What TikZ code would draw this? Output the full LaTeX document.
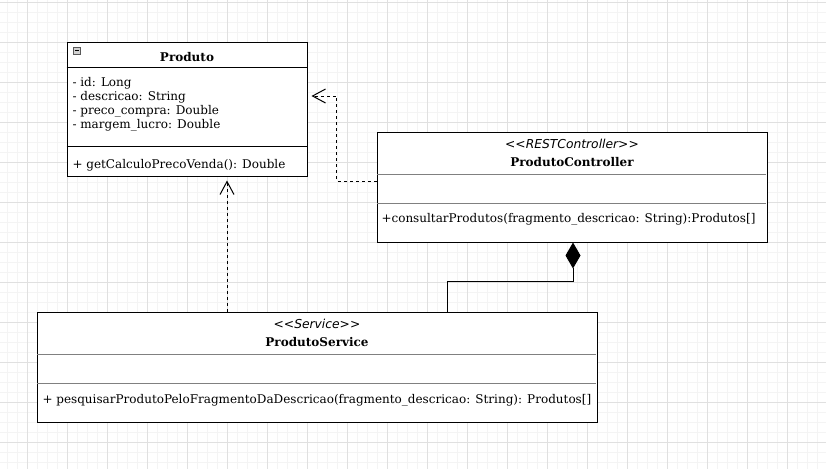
\documentclass[tikz,border=0pt]{standalone}
\usepackage{fontspec}
\setmainfont{DejaVu Serif}
\setsansfont{DejaVu Sans}
\usetikzlibrary{arrows.meta,calc,positioning}

\definecolor{gridminor}{HTML}{F4F4F4}
\definecolor{gridmajor}{HTML}{E0E0E0}

\begin{document}
\begin{tikzpicture}[x=1pt,y=-1pt,line width=1pt,
		classbox/.style={draw,rectangle,inner sep=0pt},
		classtitle/.style={font=\fontsize{12}{14}\selectfont\bfseries,anchor=base,inner sep=0pt},
		stereo/.style={font=\fontsize{12.3}{14}\sffamily\itshape,anchor=base,inner sep=0pt},
		member/.style={font=\fontsize{12}{14}\selectfont,anchor=base west,inner sep=0pt},
		dep/.style={dash pattern=on 3pt off 3pt,-{Straight Barb[length=13pt,width=14pt]},shorten >=4pt},
		comp/.style={-{Diamond[length=26pt,width=15pt]}}]
		\useasboundingbox (0,0) rectangle (826,469);
		% grid
		\foreach \x in {7,17,...,827} \draw[gridminor,line width=0.8pt] (\x,0) -- (\x,469);
		\foreach \y in {2,12,...,469} \draw[gridminor,line width=0.8pt] (0,\y) -- (826,\y);
		\foreach \x in {27,67,...,827} \draw[gridmajor,line width=0.8pt] (\x,0) -- (\x,469);
		\foreach \y in {2,42,...,469} \draw[gridmajor,line width=0.8pt] (0,\y) -- (826,\y);

		% nodes
		\node[classbox,fill=white,minimum width=240pt,minimum height=134pt] (produto) at (187,109) {};
		\node[classbox,fill=white,minimum width=390pt,minimum height=110pt] (controller) at (572,187) {};
		\node[classbox,fill=white,minimum width=560pt,minimum height=110pt] (service) at (317,367) {};

		% compartments
		\draw (produto.north west) ++(0,26) -- ++(240,0);
		\draw (produto.north west) ++(0,105) -- ++(240,0);
		\draw[black!50] (controller.north west) ++(0.5,43) -- ++(389,0);
		\draw[black!50] (controller.north west) ++(0.5,72) -- ++(389,0);
		\draw[black!50] (service.north west) ++(0.5,43) -- ++(559,0);
		\draw[black!50] (service.north west) ++(0.5,72) -- ++(559,0);

		% collapse icon
		\draw[fill=gray!35,draw=gray!70!black,line width=0.6pt] (73,47) rectangle (80.5,54.5);
		\draw[line width=1pt] (74.8,50.8) -- (78.7,50.8);

		% texts
		\node[classtitle] (produtoName) at (187,61) {Produto};
		\node[member] (attr1) at (72,86) {- id: Long};
		\node[member] (attr2) at (72,100) {- descricao: String};
		\node[member] (attr3) at (72,114) {- preco\_compra: Double};
		\node[member] (attr4) at (72,128) {- margem\_lucro: Double};
		\node[member] (meth1) at (72,168) {+ getCalculoPrecoVenda(): Double};

		\node[stereo] (controllerStereo) at (572,148) {<{}<RESTController>{}>};
		\node[classtitle] (controllerName) at (572,166) {ProdutoController};
		\node[member] (meth2) at (381,222) {+consultarProdutos(fragmento\_descricao: String):Produtos[]};

		\node[stereo] (serviceStereo) at (317,328) {<{}<Service>{}>};
		\node[classtitle] (serviceName) at (317,346) {ProdutoService};
		\node[member] (meth3) at (42,403) {+ pesquisarProdutoPeloFragmentoDaDescricao(fragmento\_descricao: String): Produtos[]};

		% connectors
		\coordinate (depx) at (227,0);
		\coordinate (ctrly) at (0,181);
		\coordinate (prody) at (0,96);
		\coordinate (compx) at (447,0);
		\coordinate (diamx) at (573,0);
		\draw[dep] (service.north -| depx) -- (produto.south -| depx);
		\draw[dep] (controller.west |- ctrly) -- ++(-40,0) |- (produto.east |- prody);
		\draw[comp] (service.north -| compx) -- ++(0,-30) -| (controller.south -| diamx);
\end{tikzpicture}
\end{document}
